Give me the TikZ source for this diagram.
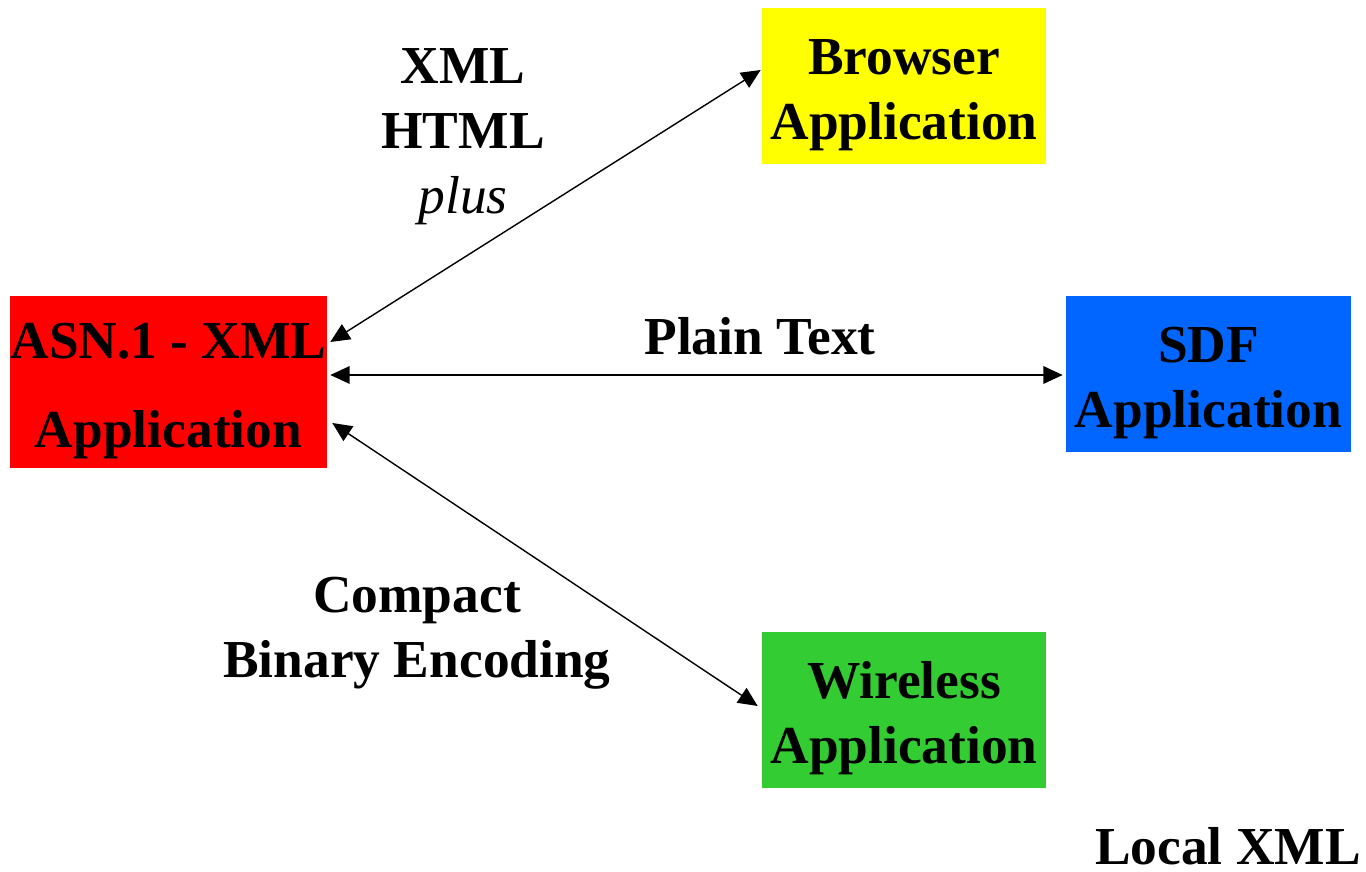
\documentclass[tikz,border=0pt]{standalone}
\usepackage{fontspec}
\setmainfont{Liberation Serif}
\usetikzlibrary{positioning, arrows.meta, calc}
\definecolor{appRed}{RGB}{255,0,0}
\definecolor{appYellow}{RGB}{255,255,0}
\definecolor{appBlue}{RGB}{0,102,255}
\definecolor{appGreen}{RGB}{51,204,51}
\newcommand{\boxstrut}{\rule{0pt}{1em}}

\begin{document}
\begin{tikzpicture}[x=0.02cm, y=0.02cm, >={Triangle[length=11pt, width=10pt]}]
\tikzset{
  appbox/.style={draw=none, inner sep=0pt, align=center,
    minimum width=5.68cm, minimum height=3.12cm,
    font=\fontsize{30.4}{37}\selectfont\bfseries},
  flowlabel/.style={inner sep=0pt, align=center,
    font=\fontsize{30.4}{37}\selectfont\bfseries},
  link/.style={<->, line width=0.8pt}
}

% Cadre
\useasboundingbox (0,0) rectangle (1366,872);

% Boites
\node[appbox, fill=appRed, minimum width=6.34cm, minimum height=3.44cm,
      font=\fontsize{30.4}{51}\selectfont\bfseries] (asn) at (168.5,490)
      {\boxstrut ASN.1 - XML\\Application};
\node[appbox, fill=appYellow] (browser) at (904,786) {\boxstrut Browser\\Application};
\node[appbox, fill=appBlue, minimum width=5.70cm] (sdf) at (1208.5,498) {\boxstrut SDF\\Application};
\node[appbox, fill=appGreen] (wireless) at (904,162) {\boxstrut Wireless\\Application};

% Fleches
\draw[link] ($(asn.east)+(3,40)$) -- ($(browser.west)+(-1,16)$);
\draw[link] ($(asn.east)+(3,7)$) -- ($(sdf.west)+(-3,-1)$);
\draw[link] ($(asn.east)+(5,-41)$) -- ($(wireless.west)+(-4,4)$);

% Etiquettes
\node[flowlabel] (webfmt) at (463,735) {XML\\HTML\\\normalfont\itshape plus};
\node[flowlabel] (plain) at (760,536) {Plain Text};
\node[flowlabel] (compact) at (417,239) {Compact\\Binary Encoding};
\node[flowlabel, anchor=east] (local) at (1361,26) {Local XML};

\end{tikzpicture}
\end{document}
